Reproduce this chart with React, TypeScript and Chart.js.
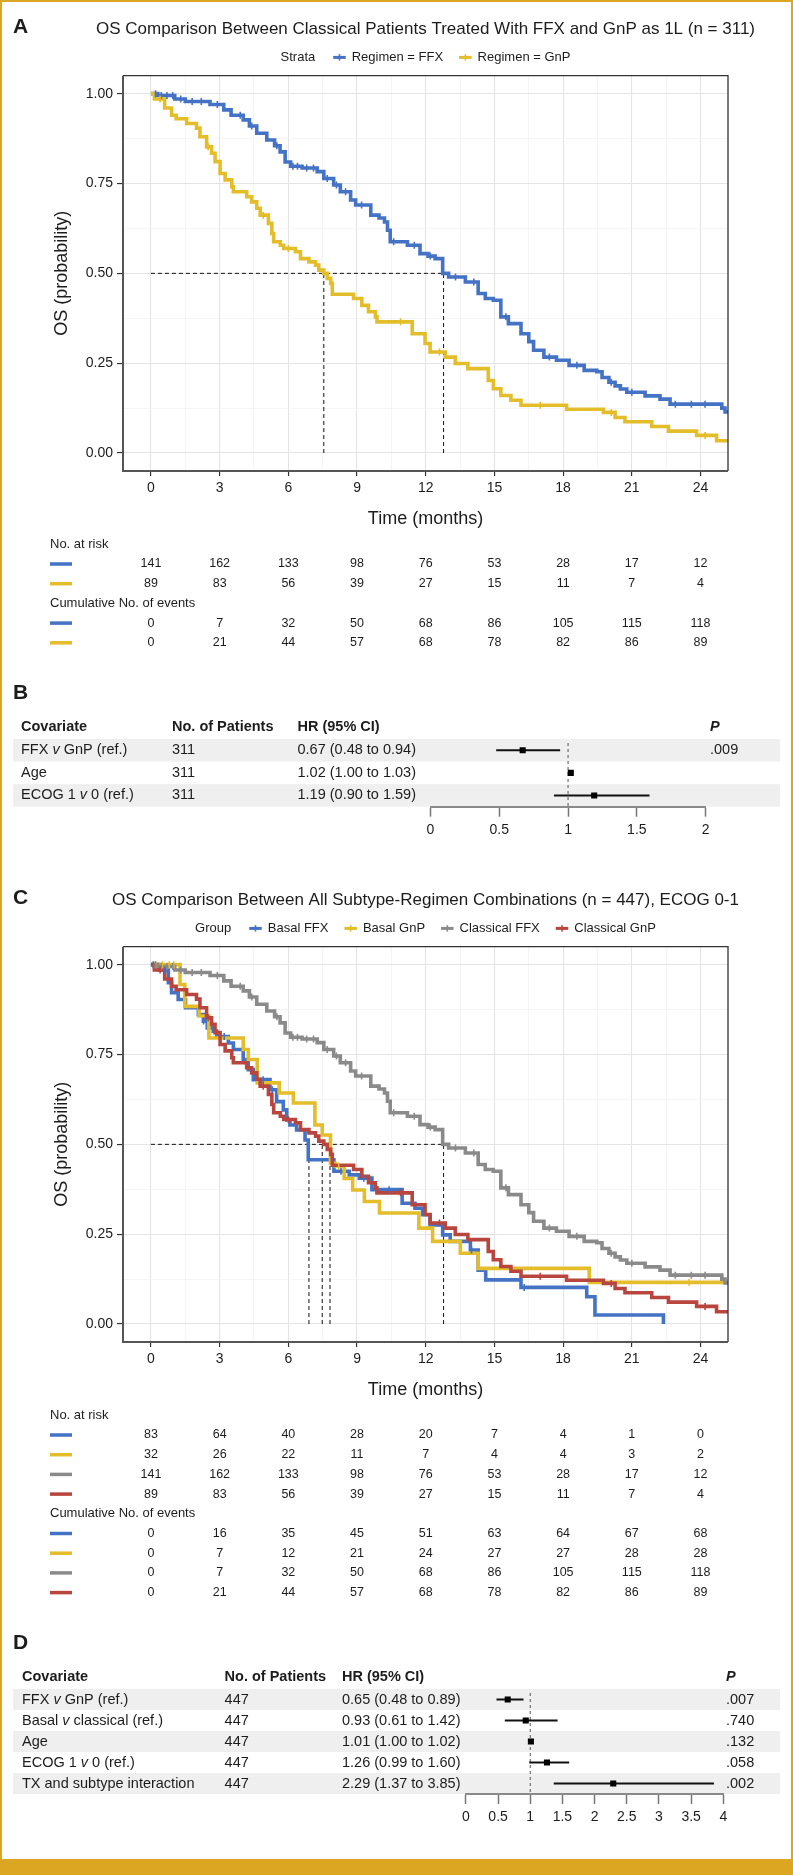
import React, { useEffect, useRef } from 'react';
import { Chart, registerables } from 'chart.js';

Chart.register(...registerables);

const FONT = '"Liberation Sans", Arial, Helvetica, sans-serif';
Chart.defaults.font.family = FONT;
const TXT = '#1c1c1c';

// ---------------- DATA ----------------
const riskTimes = [0, 3, 6, 9, 12, 15, 18, 21, 24];
const yTickLabels = [0, 0.25, 0.5, 0.75, 1];

// Classical FFX (panel A: Regimen = FFX, panel C: Classical FFX)
const classicalFfxTimes = [0, 0.3, 1.04, 1.5, 2.58, 3.18, 3.5, 4.03, 4.3, 4.62, 5.06, 5.4, 5.64, 5.86, 6.1, 6.6, 7.26, 7.55, 7.98, 8.27, 8.72, 8.94, 9.6, 9.96, 10.2, 10.33, 10.45, 11.2, 11.75, 12.1, 12.41, 12.74, 13.0, 13.73, 14.29, 14.6, 14.95, 15.28, 15.61, 16.16, 16.5, 16.71, 17.16, 17.71, 18.26, 18.92, 19.47, 19.7, 20.0, 20.27, 20.5, 20.78, 21.58, 22.23, 22.67, 24.93, 25.07, 25.2];
const classicalFfxSurv = [1, 0.995, 0.985, 0.978, 0.97, 0.955, 0.94, 0.927, 0.91, 0.89, 0.871, 0.855, 0.838, 0.81, 0.798, 0.793, 0.783, 0.764, 0.746, 0.727, 0.704, 0.69, 0.662, 0.654, 0.643, 0.62, 0.588, 0.578, 0.555, 0.548, 0.541, 0.5, 0.49, 0.476, 0.444, 0.43, 0.425, 0.379, 0.36, 0.332, 0.31, 0.286, 0.267, 0.258, 0.244, 0.23, 0.226, 0.21, 0.197, 0.187, 0.178, 0.169, 0.159, 0.15, 0.136, 0.125, 0.114, 0.114];
const classicalFfxCensor = [0.2, 0.45, 0.7, 0.95, 1.3, 1.8, 2.2, 2.9, 3.9, 4.4, 5.5, 6.2, 6.4, 6.8, 7.1, 7.7, 8.1, 8.5, 9.2, 10.6, 11.5, 12.2, 13.3, 14.1, 15.5, 17.4, 18.6, 20.1, 21.0, 22.9, 23.6, 24.2];

// Classical GnP (panel A: Regimen = GnP, panel C: Classical GnP)
const classicalGnpTimes = [0, 0.15, 0.6, 0.9, 1.1, 1.56, 1.99, 2.14, 2.43, 2.65, 2.8, 3.02, 3.24, 3.53, 3.6, 4.18, 4.4, 4.62, 4.77, 5.13, 5.28, 5.36, 5.65, 5.8, 6.31, 6.53, 6.9, 7.19, 7.33, 7.55, 7.7, 7.85, 7.92, 8.85, 9.21, 9.5, 9.8, 9.87, 11.41, 11.97, 12.19, 12.85, 13.29, 13.84, 14.73, 14.95, 15.28, 15.72, 16.16, 18.15, 19.76, 20.27, 20.7, 21.87, 22.6, 23.83, 24.7, 25.2];
const classicalGnpSurv = [1, 0.985, 0.96, 0.94, 0.93, 0.917, 0.904, 0.88, 0.852, 0.834, 0.811, 0.778, 0.76, 0.741, 0.727, 0.713, 0.699, 0.681, 0.662, 0.639, 0.611, 0.588, 0.578, 0.569, 0.56, 0.541, 0.532, 0.523, 0.509, 0.5, 0.486, 0.472, 0.442, 0.43, 0.411, 0.393, 0.379, 0.365, 0.332, 0.305, 0.281, 0.267, 0.249, 0.235, 0.202, 0.179, 0.16, 0.147, 0.133, 0.122, 0.113, 0.099, 0.087, 0.074, 0.061, 0.049, 0.034, 0.034];
const classicalGnpCensor = [0.4, 2.5, 4.9, 6.0, 10.9, 12.6, 17.0, 20.1, 24.2];

// Basal FFX (panel C)
const basalFfxTimes = [0, 0.35, 0.76, 0.9, 1.19, 1.51, 2.07, 2.29, 2.46, 2.72, 2.87, 3.38, 3.6, 4.03, 4.25, 4.47, 5.2, 5.49, 5.78, 5.93, 6.07, 6.36, 6.73, 6.87, 7.99, 8.66, 9.1, 9.65, 10.97, 11.53, 11.86, 12.19, 12.74, 13.07, 13.95, 14.29, 14.62, 16.16, 19.03, 19.39, 22.38];
const basalFfxSurv = [1, 0.985, 0.95, 0.922, 0.903, 0.88, 0.861, 0.843, 0.824, 0.815, 0.8, 0.782, 0.764, 0.736, 0.708, 0.68, 0.652, 0.619, 0.596, 0.568, 0.554, 0.54, 0.512, 0.457, 0.425, 0.415, 0.406, 0.374, 0.336, 0.322, 0.304, 0.276, 0.248, 0.23, 0.206, 0.15, 0.123, 0.102, 0.076, 0.025, 0];
const basalFfxCensor = [0.1, 0.6, 2.3, 3.2, 4.9, 5.3, 8.3, 9.3, 10.4, 14.0, 16.3];

// Basal GnP (panel C)
const basalGnpTimes = [0, 1.27, 1.48, 2.1, 2.53, 4.03, 4.25, 4.64, 5.6, 6.22, 7.16, 7.48, 7.84, 8.04, 8.44, 8.81, 9.32, 9.98, 11.7, 12.3, 13.51, 14.29, 19.14, 25.2];
const basalGnpSurv = [1, 0.945, 0.884, 0.857, 0.796, 0.764, 0.736, 0.671, 0.643, 0.615, 0.554, 0.526, 0.447, 0.44, 0.405, 0.373, 0.341, 0.309, 0.267, 0.23, 0.197, 0.155, 0.116, 0.116];
const basalGnpCensor = [0.2, 0.5, 0.8, 1.0, 8.2, 23.5];

// Median survival times (dashed reference lines)
const mediansA = [12.78, 7.55];
const mediansC = [6.9, 7.48, 7.82, 12.78];

// Risk tables
const atRiskClassicalFfx = [141, 162, 133, 98, 76, 53, 28, 17, 12];
const atRiskClassicalGnp = [89, 83, 56, 39, 27, 15, 11, 7, 4];
const atRiskBasalFfx = [83, 64, 40, 28, 20, 7, 4, 1, 0];
const atRiskBasalGnp = [32, 26, 22, 11, 7, 4, 4, 3, 2];
const eventsClassicalFfx = [0, 7, 32, 50, 68, 86, 105, 115, 118];
const eventsClassicalGnp = [0, 21, 44, 57, 68, 78, 82, 86, 89];
const eventsBasalFfx = [0, 16, 35, 45, 51, 63, 64, 67, 68];
const eventsBasalGnp = [0, 7, 12, 21, 24, 27, 27, 28, 28];

// Forest B
const covariatesB = ['FFX v GnP (ref.)', 'Age', 'ECOG 1 v 0 (ref.)'];
const patientsB = [311, 311, 311];
const hrB = [0.67, 1.02, 1.19];
const loB = [0.48, 1.0, 0.9];
const hiB = [0.94, 1.03, 1.59];
const pB = ['.009', '', ''];
const forestTicksB = [0, 0.5, 1, 1.5, 2];

// Forest D
const covariatesD = ['FFX v GnP (ref.)', 'Basal v classical (ref.)', 'Age', 'ECOG 1 v 0 (ref.)', 'TX and subtype interaction'];
const patientsD = [447, 447, 447, 447, 447];
const hrD = [0.65, 0.93, 1.01, 1.26, 2.29];
const loD = [0.48, 0.61, 1.0, 0.99, 1.37];
const hiD = [0.89, 1.42, 1.02, 1.6, 3.85];
const pD = ['.007', '.740', '.132', '.058', '.002'];
const forestTicksD = [0, 0.5, 1, 1.5, 2, 2.5, 3, 3.5, 4];

// ---------------- STYLE ----------------
const BLUE = '#4472C4';
const YELLOW = '#E4BD2A';
const GRAY = '#8A8A8A';
const RED = '#B8463F';
const GOLD = '#DDA622';

type Curve = { times: number[]; surv: number[]; censor: number[]; color: string; label: string; atRisk: number[]; events: number[] };

function survAt(c: Curve, t: number) {
  let s = c.surv[0];
  for (let i = 0; i < c.times.length; i++) if (c.times[i] <= t) s = c.surv[i];
  return s;
}

function swatch(ctx: CanvasRenderingContext2D, x: number, y: number, w: number, color: string, th: number, cross: boolean) {
  ctx.fillStyle = color;
  ctx.fillRect(x, y - th / 2, w, th);
  if (cross) ctx.fillRect(x + w / 2 - 0.8, y - 3.2, 1.6, 6.4);
}

type KMPanel = { letter: string; title: string; legendTitle: string; curves: Curve[]; medians: number[]; height: number };

function kmConfig(p: KMPanel): any {
  const n = p.curves.length;
  const datasets: any[] = [];
  const maxMed = Math.max(...p.medians);
  datasets.push({ type: 'line', data: [{ x: 0, y: 0.5 }, { x: maxMed, y: 0.5 }], borderColor: '#111', borderWidth: 1, borderDash: [4, 3], pointRadius: 0, order: 300 });
  p.medians.forEach((m) => {
    datasets.push({ type: 'line', data: [{ x: m, y: 0 }, { x: m, y: 0.5 }], borderColor: '#111', borderWidth: 1, borderDash: [4, 3], pointRadius: 0, order: 300 });
  });
  p.curves.forEach((c, i) => {
    datasets.push({
      type: 'line', label: c.label, data: c.times.map((t, k) => ({ x: t, y: c.surv[k] })),
      stepped: 'before', borderColor: c.color, borderWidth: 3.6, pointRadius: 0, fill: false, order: 200 - i,
    });
    datasets.push({
      type: 'scatter', data: c.censor.map((t) => ({ x: t, y: survAt(c, t) })),
      pointStyle: 'line', rotation: 90, pointRadius: 3.5, borderColor: c.color, borderWidth: 1.6, order: 100 - i,
    });
  });
  const xMajor = new Set(riskTimes);
  const xGrid: number[] = [];
  for (let i = 0; i < riskTimes.length; i++) {
    xGrid.push(riskTimes[i]);
    if (i < riskTimes.length - 1) xGrid.push((riskTimes[i] + riskTimes[i + 1]) / 2);
  }
  const yGrid: number[] = [];
  for (let i = 0; i < yTickLabels.length; i++) {
    yGrid.push(yTickLabels[i]);
    if (i < yTickLabels.length - 1) yGrid.push((yTickLabels[i] + yTickLabels[i + 1]) / 2);
  }
  const yMajor = new Set(yTickLabels);
  return {
    type: 'line',
    data: { datasets },
    options: {
      animation: false,
      responsive: false,
      events: [],
      layout: { padding: { top: 75.7, right: 65, left: 0, bottom: 0 } },
      plugins: { legend: { display: false }, tooltip: { enabled: false }, title: { display: false } },
      scales: {
        x: {
          type: 'linear', min: -1.22, max: 25.2,
          afterBuildTicks: (s: any) => { s.ticks = xGrid.map((v) => ({ value: v })); },
          afterFit: (s: any) => { s.height = p.height - 471; },
          ticks: { autoSkip: false, maxRotation: 0, padding: 4, color: TXT, font: { size: 14 }, callback: (v: any) => (xMajor.has(v) ? String(v) : '') },
          grid: {
            color: (c: any) => (xMajor.has(c.tick?.value) ? '#e4e4e4' : '#f1f1f1'),
            lineWidth: (c: any) => (xMajor.has(c.tick?.value) ? 1.1 : 0.7),
            tickColor: (c: any) => (xMajor.has(c.tick?.value) ? '#333' : 'rgba(0,0,0,0)'),
            tickLength: 5, tickWidth: 1.2,
          },
          border: { display: false },
        },
        y: {
          type: 'linear', min: -0.05, max: 1.05,
          afterBuildTicks: (s: any) => { s.ticks = yGrid.map((v) => ({ value: v })); },
          afterFit: (s: any) => { s.width = 123; },
          ticks: { autoSkip: false, padding: 4, color: TXT, font: { size: 14 }, callback: (v: any) => (yMajor.has(v) ? v.toFixed(2) : '') },
          grid: {
            color: (c: any) => (yMajor.has(c.tick?.value) ? '#e4e4e4' : '#f1f1f1'),
            lineWidth: (c: any) => (yMajor.has(c.tick?.value) ? 1.1 : 0.7),
            tickColor: (c: any) => (yMajor.has(c.tick?.value) ? '#333' : 'rgba(0,0,0,0)'),
            tickLength: 6, tickWidth: 1.2,
          },
          border: { display: false },
        },
      },
    },
    plugins: [
      {
        id: 'kmDecor',
        afterDraw(chart: any) {
          const { ctx, chartArea: a, scales } = chart;
          const xs = scales.x;
          ctx.save();
          ctx.strokeStyle = '#333'; ctx.lineWidth = 1.3;
          ctx.beginPath(); ctx.moveTo(a.left, a.top); ctx.lineTo(a.right, a.top); ctx.lineTo(a.right, a.bottom); ctx.stroke();
          ctx.strokeStyle = '#555'; ctx.lineWidth = 2;
          ctx.beginPath(); ctx.moveTo(a.left, a.top); ctx.lineTo(a.left, a.bottom); ctx.lineTo(a.right, a.bottom); ctx.stroke();
          const cx = (a.left + a.right) / 2;
          ctx.fillStyle = TXT; ctx.textBaseline = 'middle';
          ctx.font = `bold 21px ${FONT}`; ctx.textAlign = 'left';
          ctx.fillText(p.letter, 13, a.top - 48.7);
          ctx.font = `17px ${FONT}`; ctx.textAlign = 'center';
          ctx.fillText(p.title, cx, a.top - 46);
          // legend
          ctx.font = `13px ${FONT}`; ctx.textAlign = 'left';
          const ly = a.top - 18.3;
          const tW = ctx.measureText(p.legendTitle).width;
          const widths = p.curves.map((c) => ctx.measureText(c.label).width);
          const total = tW + 18 + widths.reduce((s, w) => s + w + 18.5, 0) + 16 * (n - 1);
          let lx = cx - total / 2;
          ctx.fillStyle = TXT; ctx.fillText(p.legendTitle, lx, ly); lx += tW + 18;
          p.curves.forEach((c, i) => {
            swatch(ctx, lx, ly, 12.5, c.color, 3, true); lx += 18.5;
            ctx.fillStyle = TXT; ctx.fillText(c.label, lx, ly); lx += widths[i] + 16;
          });
          // axis titles
          ctx.font = `18px ${FONT}`; ctx.textAlign = 'center'; ctx.fillStyle = TXT;
          ctx.fillText('Time (months)', cx, a.bottom + 48.3);
          ctx.save(); ctx.translate(62, (a.top + a.bottom) / 2); ctx.rotate(-Math.PI / 2);
          ctx.fillText('OS (probability)', 0, 0); ctx.restore();
          // risk tables
          let ry = a.bottom + 73.3;
          const drawBlock = (head: string, rows: number[][]) => {
            ctx.font = `13px ${FONT}`; ctx.textAlign = 'left'; ctx.fillStyle = TXT;
            ctx.fillText(head, 50, ry);
            rows.forEach((row, i) => {
              ry += 19.7;
              swatch(ctx, 50, ry, 22, p.curves[i].color, 3.5, false);
              ctx.font = `12.5px ${FONT}`; ctx.textAlign = 'center'; ctx.fillStyle = TXT;
              row.forEach((v, j) => ctx.fillText(String(v), xs.getPixelForValue(riskTimes[j]), ry));
            });
            ry += 19.7;
          };
          drawBlock('No. at risk', p.curves.map((c) => c.atRisk));
          drawBlock('Cumulative No. of events', p.curves.map((c) => c.events));
          ctx.restore();
        },
      },
    ],
  };
}

function drawCov(ctx: CanvasRenderingContext2D, text: string, x: number, y: number) {
  const parts = text.split(' v ');
  ctx.font = `14.5px ${FONT}`;
  if (parts.length === 1) { ctx.fillText(text, x, y); return; }
  let cx = x;
  const a = parts[0] + ' ';
  ctx.fillText(a, cx, y); cx += ctx.measureText(a).width;
  ctx.font = `italic 14.5px ${FONT}`;
  ctx.fillText('v', cx, y); cx += ctx.measureText('v').width;
  ctx.font = `14.5px ${FONT}`;
  ctx.fillText(' ' + parts[1], cx, y);
}

type ForestPanel = { letter: string; covs: string[]; pts: number[]; hr: number[]; lo: number[]; hi: number[]; p: string[]; ticks: number[]; left: number; right: number; height: number; bottom: number; cols: number[] };

function forestConfig(f: ForestPanel): any {
  const n = f.covs.length;
  return {
    type: 'bar',
    data: {
      labels: f.covs,
      datasets: [
        { type: 'bar', data: f.lo.map((l, i) => [l, f.hi[i]]), backgroundColor: '#111', barThickness: 1.3, borderWidth: 0, indexAxis: 'y', order: 2 },
        { type: 'line', data: f.hr, indexAxis: 'y', showLine: false, pointStyle: 'rect', pointRadius: 4.3, backgroundColor: '#000', borderColor: '#000', borderWidth: 0, order: 1 },
      ],
    },
    options: {
      animation: false,
      responsive: false,
      events: [],
      indexAxis: 'y',
      layout: { padding: { left: f.left, right: 793 - f.right, top: 79, bottom: 0 } },
      plugins: { legend: { display: false }, tooltip: { enabled: false } },
      scales: {
        x: {
          type: 'linear', min: f.ticks[0], max: f.ticks[f.ticks.length - 1],
          afterBuildTicks: (s: any) => { s.ticks = f.ticks.map((v) => ({ value: v })); },
          afterFit: (s: any) => { s.height = f.height - f.bottom; },
          ticks: { autoSkip: false, maxRotation: 0, padding: 5, color: TXT, font: { size: 14 }, callback: (v: any) => String(v) },
          grid: { drawOnChartArea: false, tickLength: 10, tickColor: '#777', tickWidth: 1.5 },
          border: { color: '#8a8a8a', width: 2 },
        },
        y: { type: 'category', display: false, offset: true },
      },
    },
    plugins: [
      {
        id: 'forestDecor',
        beforeDraw(chart: any) {
          const { ctx, chartArea: a, scales } = chart;
          const rowH = (a.bottom - a.top) / n;
          ctx.save();
          ctx.fillStyle = '#efefef';
          for (let i = 0; i < n; i += 2) {
            const y = scales.y.getPixelForValue(i);
            ctx.fillRect(13, y - rowH / 2, 767, rowH);
          }
          ctx.restore();
        },
        beforeDatasetsDraw(chart: any) {
          const { ctx, chartArea: a, scales } = chart;
          const x = scales.x.getPixelForValue(1);
          ctx.save();
          ctx.strokeStyle = '#555'; ctx.lineWidth = 1; ctx.setLineDash([3, 3]);
          ctx.beginPath(); ctx.moveTo(x, a.top + 4); ctx.lineTo(x, a.bottom); ctx.stroke();
          ctx.restore();
        },
        afterDraw(chart: any) {
          const { ctx, chartArea: a, scales } = chart;
          ctx.save();
          ctx.fillStyle = TXT; ctx.textBaseline = 'middle'; ctx.textAlign = 'left';
          ctx.font = `bold 21px ${FONT}`;
          ctx.fillText(f.letter, 13, 33.3);
          const hy = a.top - 12.3;
          ctx.font = `bold 14.5px ${FONT}`;
          ctx.fillText('Covariate', f.cols[0], hy);
          ctx.fillText('No. of Patients', f.cols[1], hy);
          ctx.fillText('HR (95% CI)', f.cols[2], hy);
          ctx.font = `italic bold 14.5px ${FONT}`;
          ctx.fillText('P', f.cols[3], hy);
          for (let i = 0; i < n; i++) {
            const y = scales.y.getPixelForValue(i);
            drawCov(ctx, f.covs[i], f.cols[0], y);
            ctx.font = `14.5px ${FONT}`;
            ctx.fillText(String(f.pts[i]), f.cols[1], y);
            ctx.fillText(`${f.hr[i].toFixed(2)} (${f.lo[i].toFixed(2)} to ${f.hi[i].toFixed(2)})`, f.cols[2], y);
            if (f.p[i]) ctx.fillText(f.p[i], f.cols[3], y);
          }
          ctx.restore();
        },
      },
    ],
  };
}

function ChartCanvas({ config, top, height }: { config: () => any; top: number; height: number }) {
  const ref = useRef<HTMLCanvasElement | null>(null);
  useEffect(() => {
    if (!ref.current) return;
    const c = new Chart(ref.current, config());
    return () => c.destroy();
  }, []);
  return (
    <canvas ref={ref} width={793} height={height}
      style={{ position: 'absolute', left: 0, top, width: 793, height, display: 'block' }} />
  );
}

const curvesA: Curve[] = [
  { times: classicalFfxTimes, surv: classicalFfxSurv, censor: classicalFfxCensor, color: BLUE, label: 'Regimen = FFX', atRisk: atRiskClassicalFfx, events: eventsClassicalFfx },
  { times: classicalGnpTimes, surv: classicalGnpSurv, censor: classicalGnpCensor, color: YELLOW, label: 'Regimen = GnP', atRisk: atRiskClassicalGnp, events: eventsClassicalGnp },
];
const curvesC: Curve[] = [
  { times: basalFfxTimes, surv: basalFfxSurv, censor: basalFfxCensor, color: BLUE, label: 'Basal FFX', atRisk: atRiskBasalFfx, events: eventsBasalFfx },
  { times: basalGnpTimes, surv: basalGnpSurv, censor: basalGnpCensor, color: YELLOW, label: 'Basal GnP', atRisk: atRiskBasalGnp, events: eventsBasalGnp },
  { times: classicalFfxTimes, surv: classicalFfxSurv, censor: classicalFfxCensor, color: GRAY, label: 'Classical FFX', atRisk: atRiskClassicalFfx, events: eventsClassicalFfx },
  { times: classicalGnpTimes, surv: classicalGnpSurv, censor: classicalGnpCensor, color: RED, label: 'Classical GnP', atRisk: atRiskClassicalGnp, events: eventsClassicalGnp },
];

export default function App() {
  return (
    <div style={{ position: 'absolute', left: 0, top: 0, width: 793, height: 1875, background: '#fff', overflow: 'hidden' }}>
      <ChartCanvas top={0} height={660} config={() => kmConfig({
        letter: 'A', title: 'OS Comparison Between Classical Patients Treated With FFX and GnP as 1L (n = 311)',
        legendTitle: 'Strata', curves: curvesA, medians: mediansA, height: 660,
      })} />
      <ChartCanvas top={660} height={190} config={() => forestConfig({
        letter: 'B', covs: covariatesB, pts: patientsB, hr: hrB, lo: loB, hi: hiB, p: pB, ticks: forestTicksB,
        left: 430.5, right: 705.6, height: 190, bottom: 146.7, cols: [21, 172, 297.5, 710],
      })} />
      <ChartCanvas top={871} height={739} config={() => kmConfig({
        letter: 'C', title: 'OS Comparison Between All Subtype-Regimen Combinations (n = 447), ECOG 0-1',
        legendTitle: 'Group', curves: curvesC, medians: mediansC, height: 739,
      })} />
      <ChartCanvas top={1610} height={249} config={() => forestConfig({
        letter: 'D', covs: covariatesD, pts: patientsD, hr: hrD, lo: loD, hi: hiD, p: pD, ticks: forestTicksD,
        left: 465.9, right: 723.3, height: 249, bottom: 184, cols: [22, 224.6, 342, 726],
      })} />
      <div style={{ position: 'absolute', left: 0, top: 0, width: 793, height: 1.5, background: GOLD }} />
      <div style={{ position: 'absolute', left: 0, top: 0, width: 2, height: 1875, background: GOLD }} />
      <div style={{ position: 'absolute', left: 791, top: 0, width: 2, height: 1875, background: GOLD }} />
      <div style={{ position: 'absolute', left: 0, top: 1859, width: 793, height: 16, background: GOLD }} />
    </div>
  );
}
